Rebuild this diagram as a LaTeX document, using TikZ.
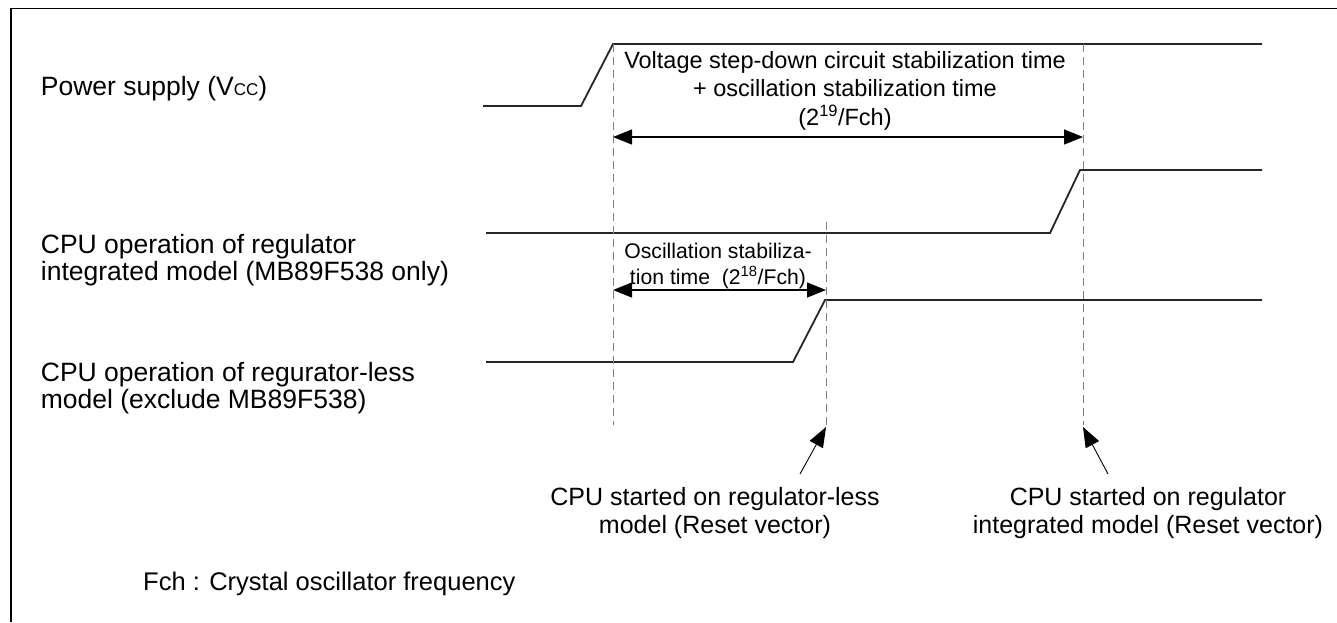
\documentclass[tikz,border=0pt]{standalone}
\usepackage{fontspec}
\setmainfont{Liberation Sans}
\usetikzlibrary{arrows.meta}
\tikzset{
  wave/.style={line width=1.8pt,draw=black!85},
  guide/.style={draw=black!50,line width=1pt,dash pattern=on 8pt off 5pt},
  span/.style={line width=1.3pt,{Triangle[length=19pt,width=15pt]}-{Triangle[length=19pt,width=15pt]}},
  marker/.style={line width=0.9pt,-{Triangle[length=20pt,width=15pt]}},
  lbl/.style={inner sep=0pt,font=\fontsize{26.5}{27.5}\selectfont},
  startlbl/.style={inner sep=0pt,anchor=north,align=center,font=\fontsize{25}{28}\selectfont},
}
\newcommand{\vcc}{V{\fontsize{17}{17}\selectfont CC}}
\begin{document}
\begin{tikzpicture}[x=1pt,y=-1pt]
\useasboundingbox (0,0) rectangle (1337,622);
\draw[line width=1.6pt] (10.7,622) -- (10.7,8.3) -- (1337,8.3);
% signal names
\node[lbl,anchor=base west] (vccname) at (40.7,95) {Power supply (\vcc)};
\node[lbl,anchor=north west,align=left] (regname) at (40.7,234) {CPU operation of regulator\\integrated model (MB89F538 only)};
\node[lbl,anchor=north west,align=left] (lessname) at (40.7,362) {CPU operation of regurator-less\\model (exclude MB89F538)};
% waveforms
\draw[wave] (483,106) -- (581,106) -- (613,44) -- (1262,44);
\draw[wave] (486,233) -- (1050,233) -- (1080,170) -- (1262,170);
\draw[wave] (486,362) -- (793,362) -- (825,300) -- (1262,300);
\foreach \x/\y in {613/44,826/222,1083/44}{
	\draw[guide] (\x,\y) -- (\x,425);}
% timings
\node[inner sep=0pt,anchor=north,align=center,font=\fontsize{23.5}{28.5}\selectfont] (vcctime) at (845,51)
  {Voltage step-down circuit stabilization time\\+ oscillation stabilization time\\(2\textsuperscript{19}/Fch)};
\coordinate (vccL) at (613,137);
\coordinate (vccR) at (1083,137);
\draw[span] (vccL) -- (vccR);
\node[inner sep=0pt,anchor=north,align=center,font=\fontsize{21.2}{26}\selectfont] (osctime) at (718,242.5)
  {Oscillation stabiliza-\\tion time\ \ (2\textsuperscript{18}/Fch)};
\coordinate (oscL) at (613,290);
\coordinate (oscR) at (826,290);
\draw[span] (oscL) -- (oscR);
% start points
\coordinate (lessTip) at (826,427);
\coordinate (lessFoot) at (800,474);
\coordinate (regTip) at (1083,427);
\coordinate (regFoot) at (1108,474);
\draw[marker] (lessFoot) -- (lessTip);
\draw[marker] (regFoot) -- (regTip);
\node[startlbl] (lessstart) at (715,487) {CPU started on regulator-less\\model (Reset vector)};
\node[startlbl] (regstart) at (1148,487) {CPU started on regulator\\integrated model (Reset vector)};
\node[inner sep=0pt,anchor=base west,font=\fontsize{25.5}{25.5}\selectfont] (fchnote) at (143,590) {Fch : Crystal oscillator frequency};
\end{tikzpicture}
\end{document}
